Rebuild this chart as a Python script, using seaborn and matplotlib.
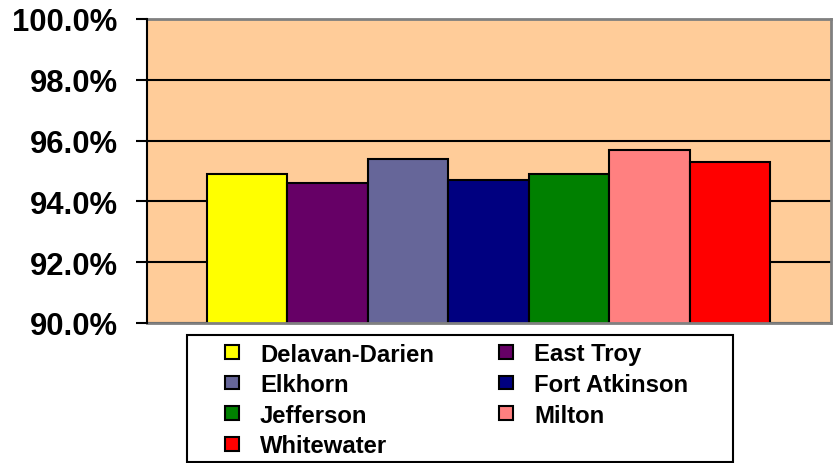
import matplotlib
matplotlib.use("Agg")
import matplotlib.pyplot as plt
import seaborn as sns
import pandas as pd
from matplotlib.patches import Patch, Rectangle
from matplotlib.ticker import FuncFormatter

schools = ["Delavan-Darien", "East Troy", "Elkhorn", "Fort Atkinson",
           "Jefferson", "Milton", "Whitewater"]
values = [94.9, 94.6, 95.4, 94.7, 94.9, 95.7, 95.3]
colors = ["#FFFF00", "#660066", "#666699", "#000080",
          "#008000", "#FF8080", "#FF0000"]
y_ticks = [90, 92, 94, 96, 98, 100]

sns.set_style("white")
plt.rcParams["font.family"] = ["Liberation Sans", "DejaVu Sans"]
plt.rcParams["font.weight"] = "bold"
plt.rcParams["text.color"] = "black"
plt.rcParams["ytick.color"] = "black"
plt.rcParams["ytick.labelcolor"] = "black"

df = pd.DataFrame({"school": schools, "value": values})

W, H = 837, 464
fig = plt.figure(figsize=(W / 100, H / 100), dpi=100)
fig.patch.set_facecolor("white")
ax = fig.add_axes([147 / W, 1 - 324 / H, (831 - 147) / W, (324 - 20) / H])
ax.set_facecolor("#FFCC99")

sns.barplot(data=df, x="school", y="value", hue="school", order=schools,
            hue_order=schools, palette=colors, width=1.0, edgecolor="black",
            linewidth=1.5, legend=False, ax=ax, saturation=1)

ax.set_ylim(90, 100)
ax.set_xlim(-1.246, 7.258)
ax.set_yticks(y_ticks)
ax.yaxis.set_major_formatter(FuncFormatter(lambda v, p: f"{v:.1f}%"))
ax.yaxis.grid(True, color="black", linewidth=1.5)
ax.set_axisbelow(True)
ax.set_xticks([])
ax.set_xlabel("")
ax.set_ylabel("")
ax.tick_params(axis="y", which="major", direction="out", length=8, width=1.5,
               color="black", labelcolor="black", pad=13, labelsize=22.3,
               left=True)
for lab in ax.get_yticklabels():
    lab.set_fontweight("bold")

for side in ["top", "right", "bottom"]:
    ax.spines[side].set_color("#808080")
    ax.spines[side].set_linewidth(2)
ax.spines["left"].set_color("black")
ax.spines["left"].set_linewidth(1.5)
ax.spines["left"].set_zorder(5)

# legend frame
frame = Rectangle((187 / W, 1 - 462.5 / H), (733 - 187) / W, (462.5 - 336) / H,
                  transform=fig.transFigure, facecolor="white",
                  edgecolor="black", linewidth=1.5, zorder=1)
fig.add_artist(frame)

order = [0, 2, 4, 6, 1, 3, 5]
handles = [Patch(facecolor=colors[i], edgecolor="black", linewidth=1.5) for i in order]
labels = [schools[i] for i in order]
fs = 17.2
fs_px = fs * 100 / 72
leg = fig.legend(handles, labels, loc="upper left",
                 bbox_to_anchor=(225 / W, 1 - 343.5 / H), ncol=2, frameon=False,
                 borderpad=0, borderaxespad=0,
                 prop={"family": "Liberation Sans", "weight": "bold", "size": fs},
                 handlelength=14 / fs_px, handleheight=12 / fs_px,
                 handletextpad=0.88, columnspacing=2.72, labelspacing=0.32,
                 labelcolor="black")
leg.set_zorder(5)

fig.savefig("out.png", dpi=100)
